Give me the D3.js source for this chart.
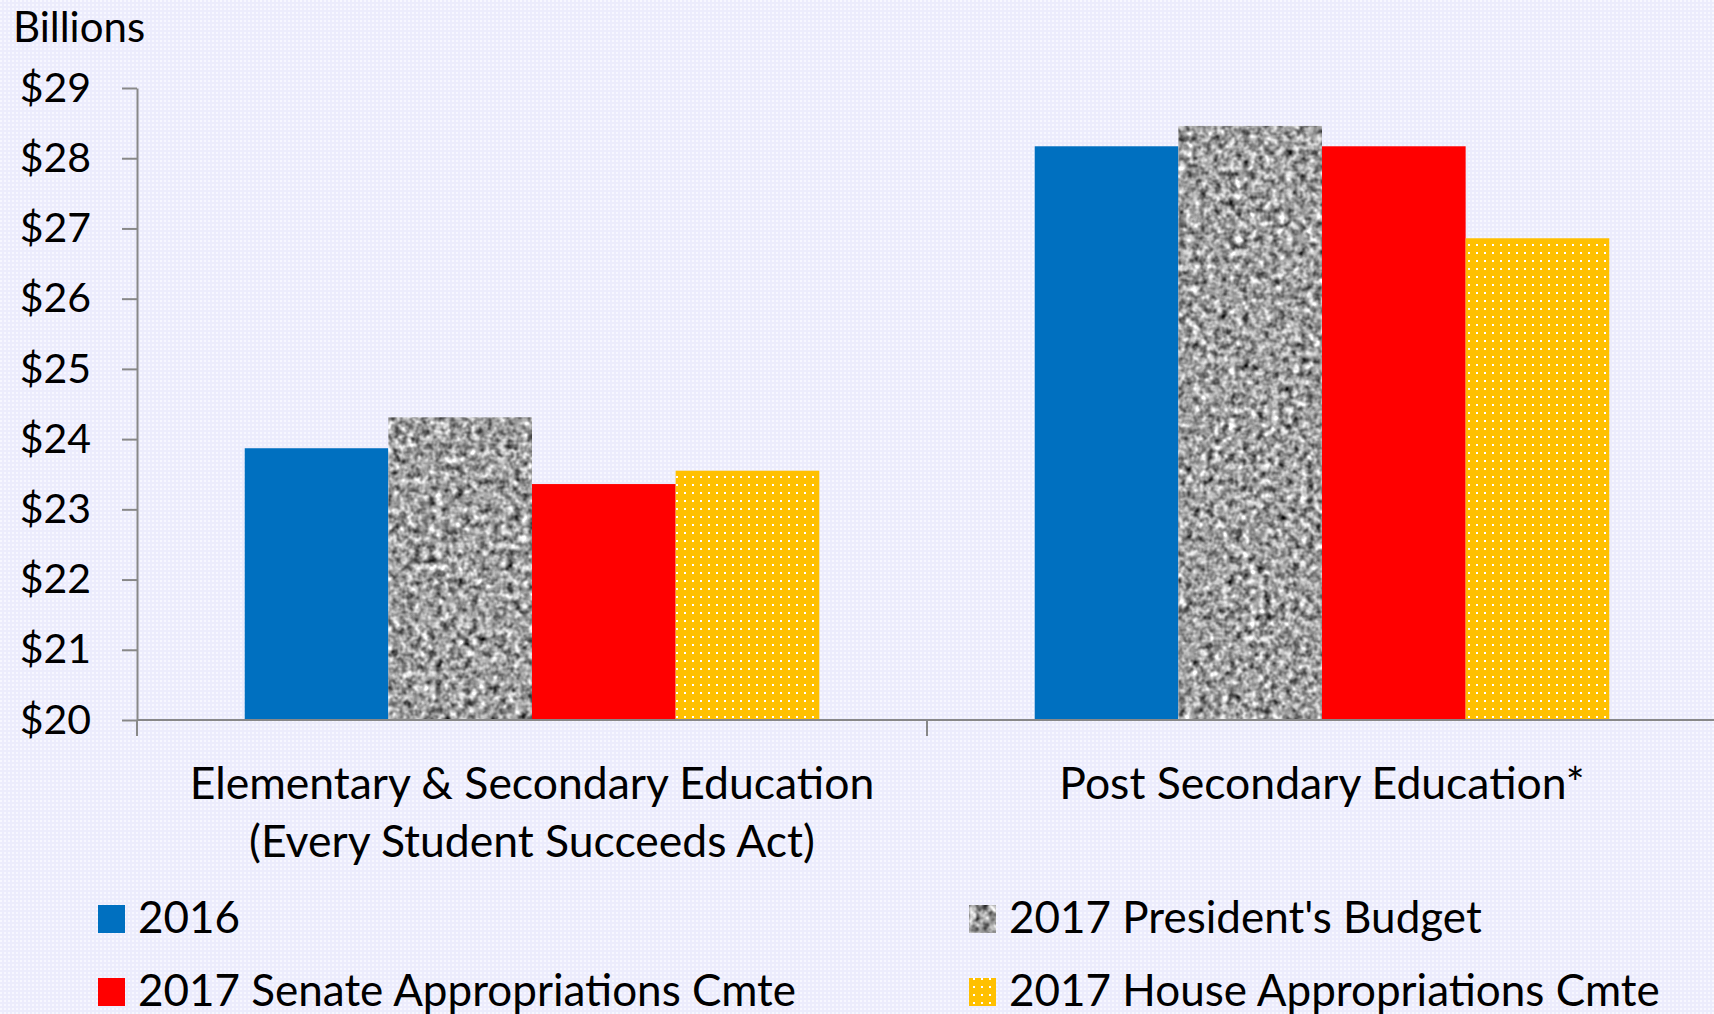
<!DOCTYPE html>
<html>
<head>
<meta charset="utf-8">
<script src="https://d3js.org/d3.v7.min.js"></script>
<style>
  body { margin: 0; background: #eeeefd; }
  svg text { font-family: Lato, "Open Sans", sans-serif; fill: #000; }
  .axis line, .axis path { stroke: #888; stroke-width: 2px; }
</style>
</head>
<body>
<script>
// data (billions of dollars)
const categories = ["Elementary & Secondary Education|(Every Student Succeeds Act)", "Post Secondary Education*"];
const seriesNames = ["2016", "2017 President's Budget", "2017 Senate Appropriations Cmte", "2017 House Appropriations Cmte"];
const v2016 = [23.87, 28.17];
const vPresident = [24.31, 28.46];
const vSenate = [23.36, 28.17];
const vHouse = [23.55, 26.86];
const yTicks = [20, 21, 22, 23, 24, 25, 26, 27, 28, 29];

const W = 1714, H = 1014;
const mLeft = 137, mRight = 1717, mTop = 88, mBottom = 720;

const svg = d3.select("body").append("svg").attr("width", W).attr("height", H);
const defs = svg.append("defs");

// faint dotted background
let bg = defs.append("pattern").attr("id", "bgdots").attr("patternUnits", "userSpaceOnUse")
  .attr("width", 4).attr("height", 4);
bg.append("rect").attr("width", 4).attr("height", 4).attr("fill", "#ececfc");
bg.append("rect").attr("width", 2).attr("height", 2).attr("fill", "#f7f7ff");
svg.append("rect").attr("width", W).attr("height", H).attr("fill", "url(#bgdots)");

// yellow with white dots
let yp = defs.append("pattern").attr("id", "ydots").attr("patternUnits", "userSpaceOnUse")
  .attr("width", 8).attr("height", 8);
yp.append("rect").attr("width", 8).attr("height", 8).attr("fill", "#ffc000");
yp.append("rect").attr("x", 4).attr("y", 4).attr("width", 2).attr("height", 2).attr("fill", "#fff");

// granite texture for the president's budget
let f = defs.append("filter").attr("id", "granite").attr("x", 0).attr("y", 0).attr("width", 1).attr("height", 1)
  .attr("color-interpolation-filters", "sRGB");
f.append("feTurbulence").attr("type", "fractalNoise").attr("baseFrequency", 0.14).attr("numOctaves", 2).attr("seed", 7).attr("result", "n");
f.append("feColorMatrix").attr("in", "n").attr("type", "matrix")
  .attr("values", "0.95 0.95 0 0 -0.33  0.95 0.95 0 0 -0.33  0.95 0.95 0 0 -0.33  0 0 0 0 1").attr("result", "g");
f.append("feComposite").attr("in", "g").attr("in2", "SourceGraphic").attr("operator", "in");

const fills = ["#0070c0", "#a0a0a0", "#ff0000", "url(#ydots)"];
const filters = [null, "url(#granite)", null, null];

const x0 = d3.scaleBand().domain(categories).range([mLeft, mRight]).paddingInner(0).paddingOuter(0);
const x1 = d3.scaleBand().domain(seriesNames).range([0, x0.bandwidth()]).paddingInner(0).paddingOuter(0.75);
const y = d3.scaleLinear().domain([20, 29]).range([mBottom, mTop]);

const allValues = [v2016, vPresident, vSenate, vHouse];
const rows = [];
categories.forEach((c, ci) => seriesNames.forEach((s, si) => rows.push({ c, s, si, v: allValues[si][ci] })));

svg.append("g").selectAll("rect").data(rows).join("rect")
  .attr("x", d => x0(d.c) + x1(d.s))
  .attr("width", x1.bandwidth())
  .attr("y", d => y(d.v))
  .attr("height", d => y(20) - y(d.v))
  .attr("fill", d => fills[d.si])
  .attr("filter", d => filters[d.si]);

// y axis
const ya = svg.append("g").attr("class", "axis").attr("transform", `translate(${mLeft},0)`)
  .call(d3.axisLeft(y).tickValues(yTicks).tickSize(15).tickSizeOuter(0).tickPadding(31).tickFormat(d => "$" + d));
ya.selectAll("text").style("font-size", "41px").attr("font-family", "Lato");
ya.append("line").attr("x1", 0).attr("x2", 0).attr("y1", mBottom).attr("y2", mBottom + 16);

// x axis
const xa = svg.append("g").attr("class", "axis").attr("transform", `translate(0,${mBottom})`);
xa.append("line").attr("x1", mLeft).attr("x2", W).attr("y1", 0).attr("y2", 0);
xa.selectAll(".sep").data(categories.slice(1)).join("line").attr("class", "sep")
  .attr("x1", d => x0(d)).attr("x2", d => x0(d)).attr("y1", 0).attr("y2", 16);

// category labels
svg.selectAll(".cat").data(categories).join("text").attr("class", "cat")
  .attr("text-anchor", "middle").style("font-size", "44.5px")
  .each(function (d) {
    d.split("|").forEach((line, i) => {
      d3.select(this).append("tspan").attr("x", x0(d) + x0.bandwidth() / 2).attr("y", 799 + i * 58).text(line);
    });
  });

svg.append("text").attr("x", 13).attr("y", 42).style("font-size", "42px").text("Billions");

// legend
const legPos = [[98, 933], [969, 933], [98, 1006], [969, 1006]];
const lg = svg.append("g").selectAll("g").data(seriesNames).join("g")
  .attr("transform", (d, i) => `translate(${legPos[i][0]},${legPos[i][1]})`);
lg.append("rect").attr("y", -28).attr("width", 27).attr("height", 28)
  .attr("fill", (d, i) => fills[i]).attr("filter", (d, i) => filters[i]);
lg.append("text").attr("x", 40).style("font-size", "44px").text(d => d);
</script>
</body>
</html>
